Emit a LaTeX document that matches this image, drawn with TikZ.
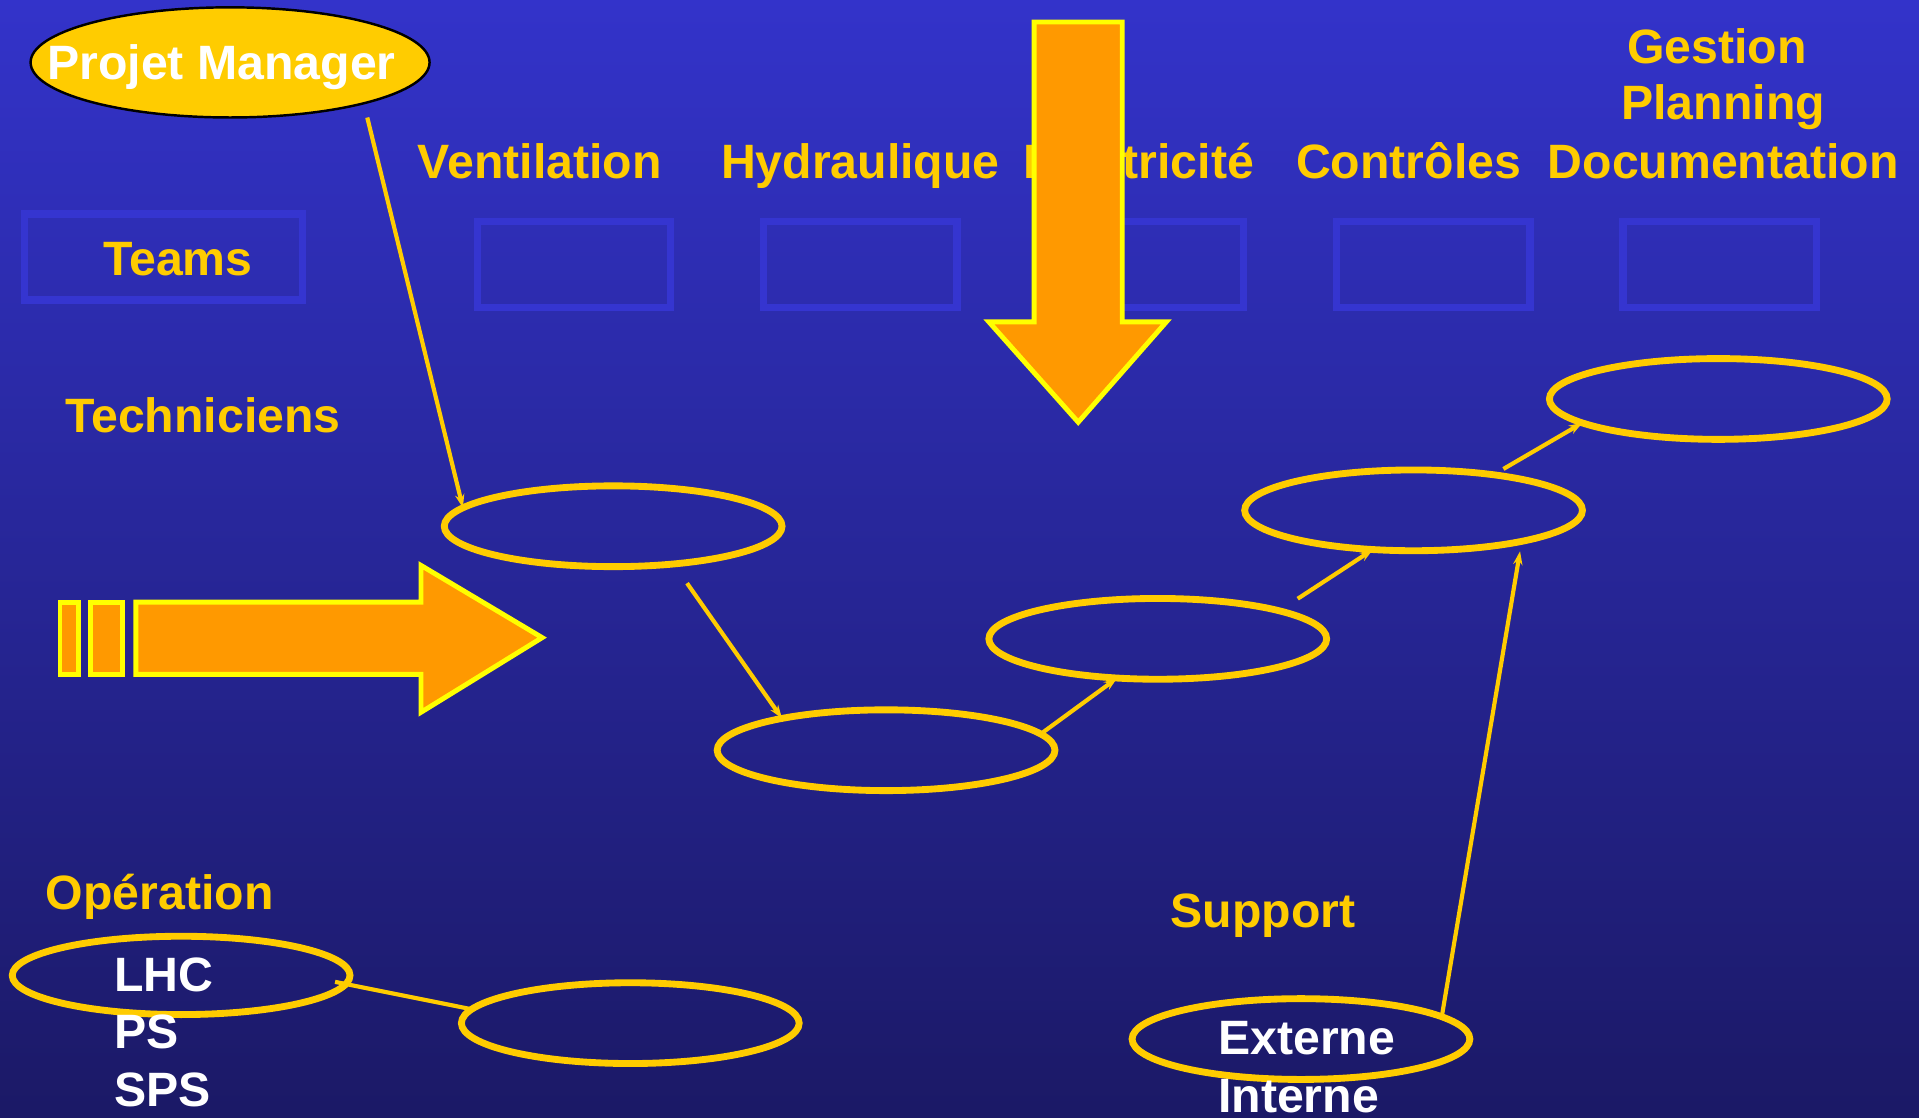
\documentclass[tikz,border=0pt]{standalone}
\usepackage{fontspec}
\setmainfont{Liberation Sans}
\usetikzlibrary{arrows.meta,shapes.geometric}
\definecolor{ylw}{HTML}{FFCC00}
\definecolor{org}{HTML}{FF9900}
\definecolor{brt}{HTML}{FFFF00}
\definecolor{bgtop}{RGB}{51,51,202}
\definecolor{bgbot}{RGB}{27,25,102}
\definecolor{boxc}{RGB}{53,53,208}
\begin{document}
\begin{tikzpicture}[x=0.5pt,y=-0.5pt,
  lbl/.style={text=ylw,font=\fontsize{19.7pt}{23pt}\selectfont\bfseries,inner sep=0pt},
  wlbl/.style={lbl,text=white},
  oval/.style={ellipse,draw=ylw,line width=2.8pt,minimum width=138pt,minimum height=33pt,inner sep=0pt,outer sep=0pt},
  teambox/.style={draw=boxc,line width=3pt,inner sep=0pt,minimum width=79pt,minimum height=35pt},
  bigarrow/.style={fill=org,draw=brt,line width=2pt,line join=miter},
  conn/.style={draw=ylw,line width=1.7pt,-{Stealth[length=5.5pt,width=3.8pt]}},
  plain/.style={draw=ylw,line width=1.7pt}
]
\useasboundingbox (0,0) rectangle (1568,913);
\shade[top color=bgtop,bottom color=bgbot] (0,0) rectangle (1568,913);

% boxes
\node[teambox,minimum width=113.5pt] (bteams) at (133.5,210) {};
\node[teambox] (bvent) at (469,216) {};
\node[teambox] (bhydr) at (703,216) {};
\node[teambox] (belec) at (937,216) {};
\node[teambox] (bcont) at (1171,216) {};
\node[teambox] (bdoc) at (1405,216) {};

% top labels
\node[lbl,anchor=base] (tvent) at (441,146) {Ventilation};
\node[lbl,anchor=base] (thydr) at (703,146) {Hydraulique};
\node[lbl,anchor=base east] (telec) at (1025,146) {Électricité};
\node[lbl,anchor=base] (tcont) at (1151,146) {Contrôles};
\node[lbl,anchor=base] (tdoc) at (1408,146) {Documentation};
\node[lbl,anchor=base] (tplan) at (1408,98) {Planning};
\node[lbl,anchor=base] (tgest) at (1403,52) {Gestion};
\node[lbl,anchor=base] (tteams) at (145.5,225) {Teams};
\node[lbl,anchor=base west] (ttech) at (53,353) {Techniciens};
\node[lbl,anchor=base west] (toper) at (37,743) {Opération};
\node[lbl,anchor=base west] (tsupp) at (956,758) {Support};

% big arrows
\path[bigarrow] (845,18) -- (917,18) -- (917,263) -- (953,263) -- (881,345) -- (808,263) -- (845,263) -- cycle;
\path[bigarrow] (111,492) -- (344,492) -- (344,462) -- (443,521) -- (344,582) -- (344,551) -- (111,551) -- cycle;
\path[bigarrow] (49,492) rectangle (64,551);
\path[bigarrow] (74,492) rectangle (100,551);

% ellipses
\node[ellipse,fill=ylw,draw=black,line width=1pt,minimum width=163pt,minimum height=45pt,inner sep=0pt,outer sep=0pt] (pm) at (188,51) {};
\node[wlbl,anchor=base] (tpm) at (181,65) {Projet Manager};
\node[oval] (e1) at (501,430) {};
\node[oval] (e2) at (724,613) {};
\node[oval] (e3) at (946,522) {};
\node[oval] (e4) at (1155,417) {};
\node[oval] (e5) at (1404,326) {};
\node[oval,minimum height=32pt] (lhc) at (148,797) {};
\node[oval] (e6) at (515,836) {};
\node[oval] (ext) at (1063,849) {};

% connectors
\draw[conn,shorten <=6pt] (pm.-17.6) -- (e1.173.3);
\draw[conn,shorten <=9.6pt] (e1.-32.1) -- (e2.163.6);
\draw[conn] (e2.6.7) -- (e3.-136);
\draw[conn,shorten <=9pt] (e3.13.8) -- (e4.-136);
\draw[conn,shorten <=4.7pt] (e4.24.2) -- (e5.-170.7);
\draw[conn,shorten >=4.1pt] (ext.9.5) -- (e4.-16.75);
\draw[plain,shorten <=-4.5pt] (lhc.-3.4) -- (e6.175.75);

% white labels
\node[wlbl,anchor=base west] (tlhc) at (93,810) {LHC};
\node[wlbl,anchor=base west] (tps) at (93,857) {PS};
\node[wlbl,anchor=base west] (tsps) at (93,904) {SPS};
\node[wlbl,anchor=base west] (text) at (995,862) {Externe};
\node[wlbl,anchor=base west] (tint) at (995,909) {Interne};
\end{tikzpicture}
\end{document}
